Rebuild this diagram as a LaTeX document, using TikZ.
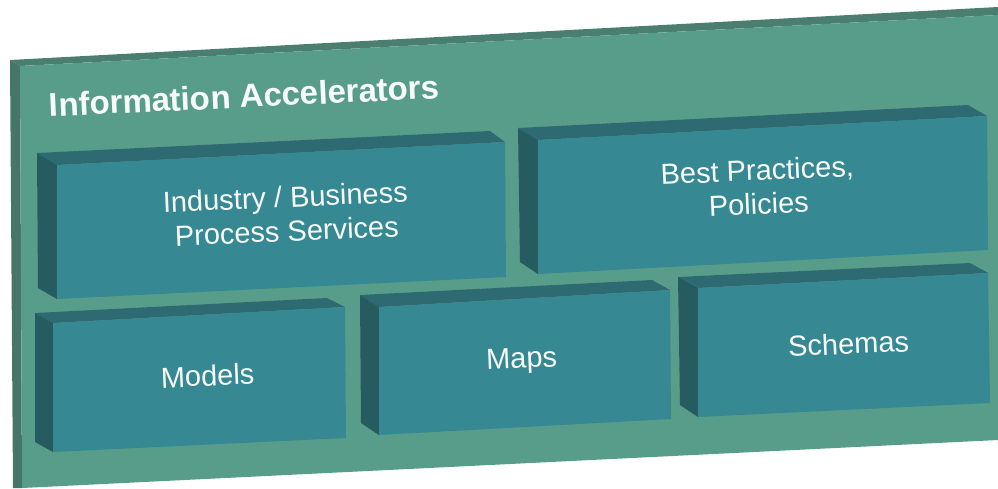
\documentclass[tikz,border=0pt]{standalone}
\usepackage{fontspec}
\setmainfont{Liberation Sans}
\definecolor{panelfront}{RGB}{87,157,138}
\definecolor{paneledge}{RGB}{74,126,110}
\definecolor{panelside}{RGB}{70,118,104}
\definecolor{boxfront}{RGB}{54,137,146}
\definecolor{boxtop}{RGB}{46,106,114}
\definecolor{boxside}{RGB}{38,91,96}
\definecolor{txt}{RGB}{248,250,250}
\newcommand\slabbox[7]{%
  \fill[boxtop] (#1) -- (#3) -- (#4) -- (#2) -- cycle;
  \fill[boxside] (#1) -- (#2) -- (#6) -- (#7) -- cycle;
  \fill[boxfront] (#2) -- (#4) -- (#5) -- (#6) -- cycle;
}
\begin{document}
\begin{tikzpicture}[x=1pt,y=-1pt,
  boxlabel/.style={text=txt,font=\fontsize{29}{34}\selectfont,align=center,rotate=2.5,inner sep=0pt},
  titlelabel/.style={text=txt,font=\fontsize{33}{38}\selectfont\bfseries,rotate=2.7,inner sep=0pt}]
\useasboundingbox (0,0) rectangle (998,488);
% panel
\fill[paneledge] (10,60) -- (998,7) -- (998,15) -- (20,66) -- cycle;
\fill[panelside] (10,60) -- (20,66) -- (22,488) -- (13,488) -- cycle;
\fill[panelfront] (20,66) -- (998,15) -- (998,440) -- (22,488) -- cycle;
\node[titlelabel,anchor=base] (title) at (245,107.5) {Information Accelerators};
% slabs
\slabbox{37,153}{57,165}{490,131}{505,142}{506,277}{57,299}{38,288}
\slabbox{518,128}{538,140}{968,105}{987,116}{988,250}{538,274}{520,262}
\slabbox{35,313}{53,323}{327,298}{345,307}{346,438}{53,452}{35,442}
\slabbox{360,295}{379,307}{652,280}{670,290}{671,419}{379,435}{361,423}
\slabbox{678,277}{698,288}{970,263}{988,273}{990,403}{698,417}{680,405}
% labels
\node[boxlabel] (industry) at (286,214) {Industry / Business\\Process Services};
\node[boxlabel] (best) at (758,187) {Best Practices,\\Policies};
\node[boxlabel,anchor=base] (models) at (208,386) {Models};
\node[boxlabel,anchor=base] (maps) at (522,368) {Maps};
\node[boxlabel,anchor=base] (schemas) at (849,354) {Schemas};
\end{tikzpicture}
\end{document}
